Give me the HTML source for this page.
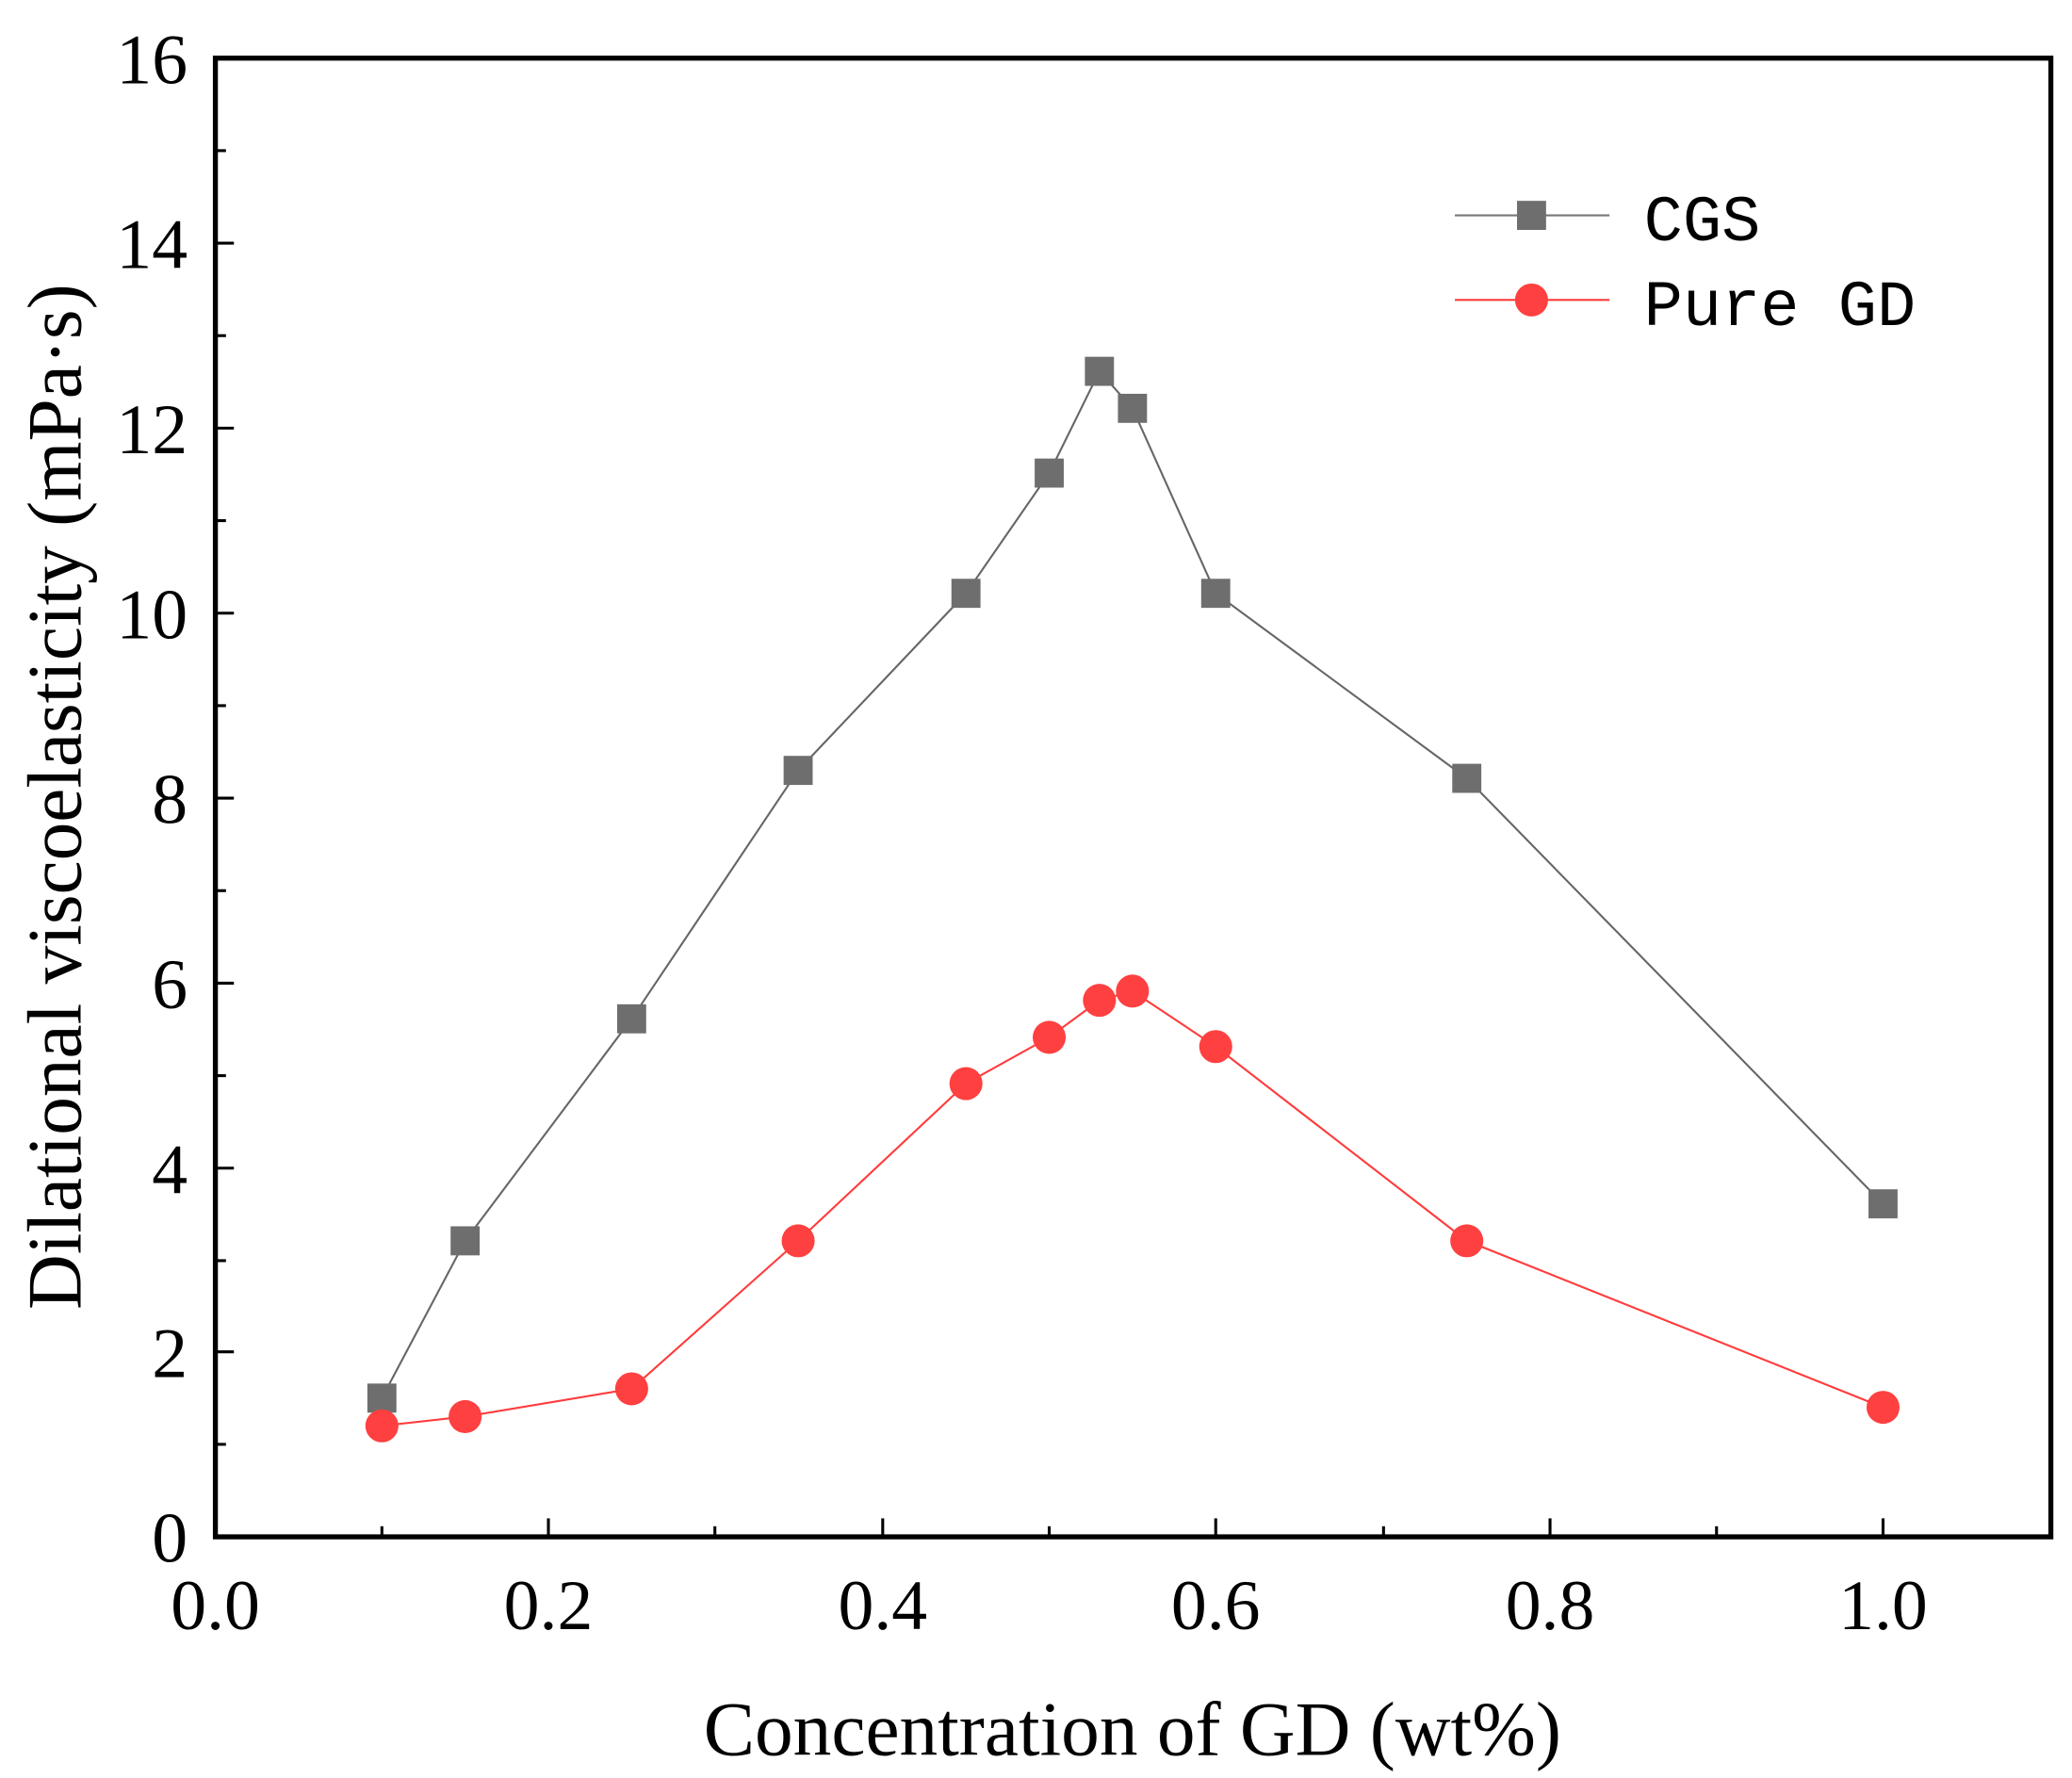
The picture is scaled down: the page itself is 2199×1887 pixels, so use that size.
<!DOCTYPE html>
<html><head><meta charset="utf-8"><style>html,body{margin:0;padding:0;background:#fff}svg{display:block}</style></head>
<body>
<svg width="2199" height="1887" viewBox="0 0 1568 1345.5" preserveAspectRatio="none" xmlns="http://www.w3.org/2000/svg">
<rect width="1568" height="1345.5" fill="#fff"/>
<g stroke="#000" stroke-width="2.2" fill="none">
<line x1="163" y1="44" x2="177" y2="44"/><line x1="163" y1="114" x2="171" y2="114"/>
<line x1="163" y1="184" x2="177" y2="184"/><line x1="163" y1="254" x2="171" y2="254"/>
<line x1="163" y1="324" x2="177" y2="324"/><line x1="163" y1="394" x2="171" y2="394"/>
<line x1="163" y1="464" x2="177" y2="464"/><line x1="163" y1="534" x2="171" y2="534"/>
<line x1="163" y1="604" x2="177" y2="604"/><line x1="163" y1="674" x2="171" y2="674"/>
<line x1="163" y1="744" x2="177" y2="744"/><line x1="163" y1="814" x2="171" y2="814"/>
<line x1="163" y1="884" x2="177" y2="884"/><line x1="163" y1="954" x2="171" y2="954"/>
<line x1="163" y1="1023" x2="177" y2="1023"/><line x1="163" y1="1093" x2="171" y2="1093"/>
<line x1="289" y1="1163" x2="289" y2="1155"/><line x1="415" y1="1163" x2="415" y2="1149"/>
<line x1="541" y1="1163" x2="541" y2="1155"/><line x1="668" y1="1163" x2="668" y2="1149"/>
<line x1="794" y1="1163" x2="794" y2="1155"/><line x1="920" y1="1163" x2="920" y2="1149"/>
<line x1="1047" y1="1163" x2="1047" y2="1155"/><line x1="1173" y1="1163" x2="1173" y2="1149"/>
<line x1="1299" y1="1163" x2="1299" y2="1155"/><line x1="1425" y1="1163" x2="1425" y2="1149"/>
</g>
<rect x="163" y="44" width="1389" height="1119" fill="none" stroke="#000" stroke-width="3.8"/>
<g font-family="Liberation Serif, serif" font-size="54" fill="#000" text-anchor="end">
<text x="142" y="63">16</text><text x="142" y="203">14</text><text x="142" y="343">12</text>
<text x="142" y="483">10</text><text x="142" y="623">8</text><text x="142" y="763">6</text>
<text x="142" y="903">4</text><text x="142" y="1042">2</text><text x="142" y="1182">0</text>
</g>
<g font-family="Liberation Serif, serif" font-size="54" fill="#000" text-anchor="middle">
<text x="163" y="1233">0.0</text><text x="415" y="1233">0.2</text><text x="668" y="1233">0.4</text>
<text x="920" y="1233">0.6</text><text x="1173" y="1233">0.8</text><text x="1425" y="1233">1.0</text>
<text x="857" y="1328" font-size="58">Concentration of GD (wt%)</text>
<text transform="translate(61,603) rotate(-90)" font-size="58">Dilational viscoelasticity (mPa·s)</text>
</g>
<polyline fill="none" stroke="#666" stroke-width="1.5" points="289,1058 352,939 478,771 604,583 731,449 794,358 832,281 857,309 920,449 1110,589 1425,911"/>
<g fill="#6e6e6e">
<rect x="278" y="1047" width="22" height="22"/><rect x="341" y="928" width="22" height="22"/>
<rect x="467" y="760" width="22" height="22"/><rect x="593" y="572" width="22" height="22"/>
<rect x="720" y="438" width="22" height="22"/><rect x="783" y="347" width="22" height="22"/>
<rect x="821" y="270" width="22" height="22"/><rect x="846" y="298" width="22" height="22"/>
<rect x="909" y="438" width="22" height="22"/><rect x="1099" y="578" width="22" height="22"/>
<rect x="1414" y="900" width="22" height="22"/>
</g>
<polyline fill="none" stroke="#ff3b3b" stroke-width="1.5" points="289,1079 352,1072 478,1051 604,939 731,820 794,785 832,757 857,750 920,792 1110,939 1425,1065"/>
<g fill="#ff4040">
<circle cx="289" cy="1079" r="12.5"/><circle cx="352" cy="1072" r="12.5"/><circle cx="478" cy="1051" r="12.5"/>
<circle cx="604" cy="939" r="12.5"/><circle cx="731" cy="820" r="12.5"/><circle cx="794" cy="785" r="12.5"/>
<circle cx="832" cy="757" r="12.5"/><circle cx="857" cy="750" r="12.5"/><circle cx="920" cy="792" r="12.5"/>
<circle cx="1110" cy="939" r="12.5"/><circle cx="1425" cy="1065" r="12.5"/>
</g>
<line x1="1101" y1="163" x2="1218" y2="163" stroke="#777" stroke-width="1.5"/>
<rect x="1148" y="152" width="22" height="22" fill="#6e6e6e"/>
<line x1="1101" y1="227" x2="1218" y2="227" stroke="#ff3b3b" stroke-width="1.5"/>
<circle cx="1159" cy="227" r="12.5" fill="#ff4040"/>
<g font-family="Liberation Mono, monospace" font-size="49" fill="#000">
<text x="1244" y="182">CGS</text><text x="1244" y="246">Pure GD</text>
</g>
</svg>
</body></html>
